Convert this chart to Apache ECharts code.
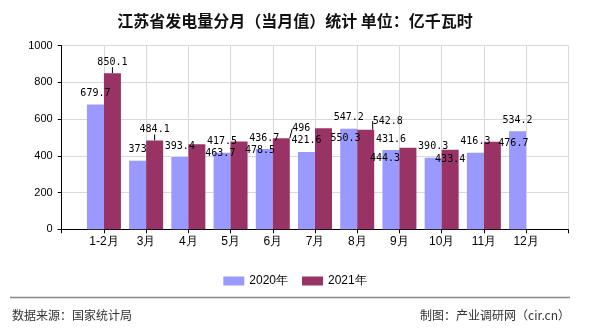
<!DOCTYPE html>
<html>
<head>
<meta charset="utf-8">
<script src="https://cdn.jsdelivr.net/npm/echarts@6/dist/echarts.min.js"></script>
<style>
html,body{margin:0;padding:0;background:#fff;}
#c{width:590px;height:330px;}
</style>
</head>
<body>
<div id="c"></div>
<script>
const categories = ['1-2月','3月','4月','5月','6月','7月','8月','9月','10月','11月','12月'];
const values2020 = [679.7, 373, 393.4, 417.5, 436.7, 421.6, 547.2, 431.6, 390.3, 416.3, 534.2];
const values2021 = [850.1, 484.1, 463.7, 478.5, 496, 550.3, 542.8, 444.3, 433.4, 476.7, null];
const seriesNames = ['2020年','2021年'];
const yTicks = {min: 0, max: 1000, interval: 200};

// label nudges (pixels) used by the original to avoid overlapping labels, 2021 series
const labelNudge2021 = {
  '4月': [23.5, 20.5], '5月': [21, 20], '6月': [20, 1.5], '7月': [22, 21.5],
  '8月': [22, 2.5], '9月': [-23, 21.5], '10月': [0, 20.5], '11月': [21, 12.5]
};

const chart = echarts.init(document.getElementById('c'), null, {renderer: 'canvas'});
const cats = [''].concat(categories, ['']);
const pad = arr => [null].concat(arr, [null]);
const labelFont = {show: true, position: 'top', distance: 6, fontFamily: 'DejaVu Sans Mono', fontSize: 10, color: '#000',
  formatter: p => (p.value == null ? '' : String(p.value))};

chart.setOption({
  animation: false,
  backgroundColor: '#fff',
  title: {
    text: '江苏省发电量分月（当月值）统计 单位：亿千瓦时',
    left: 'center', top: 8,
    textStyle: {fontFamily: 'Noto Sans CJK SC', fontSize: 16, fontWeight: 'bold', color: '#111'}
  },
  legend: {
    data: seriesNames,
    left: 'center', top: 270,
    itemWidth: 21, itemHeight: 9, itemGap: 14,
    icon: 'rect',
    textStyle: {fontFamily: 'Liberation Sans', fontSize: 12, color: '#000'}
  },
  grid: {left: 61.7, right: 21.7, top: 45.7, bottom: 100.7, containLabel: false},
  xAxis: {
    type: 'category', data: cats, boundaryGap: false,
    axisLine: {lineStyle: {color: '#000', width: 1}},
    axisTick: {show: true, length: 4, lineStyle: {color: '#000'}, interval: 0},
    axisLabel: {interval: 0, margin: 6, fontFamily: 'Liberation Sans', fontSize: 12, color: '#000'},
    splitLine: {show: true, interval: 0, lineStyle: {color: '#d9d9d9', width: 1}}
  },
  yAxis: {
    type: 'value', min: yTicks.min, max: yTicks.max, interval: yTicks.interval,
    axisLine: {show: true, lineStyle: {color: '#000', width: 1}},
    axisTick: {show: true, length: 4, lineStyle: {color: '#000'}},
    axisLabel: {margin: 9, fontFamily: 'Liberation Sans', fontSize: 11, color: '#000', formatter: v => String(v)},
    splitLine: {show: true, lineStyle: {color: '#d9d9d9', width: 1}}
  },
  series: [
    {name: seriesNames[0], type: 'bar', data: pad(values2020), barWidth: 17, barGap: '0%',
     itemStyle: {color: '#9999ff'}, label: labelFont},
    {name: seriesNames[1], type: 'bar', data: pad(values2021), barWidth: 17, barGap: '0%',
     itemStyle: {color: '#993366'}, label: labelFont,
     labelLine: {show: true, lineStyle: {color: '#000', width: 1}},
     labelLayout: function (p) {
       const n = labelNudge2021[cats[p.dataIndex]];
       return n ? {dx: n[0], dy: n[1]} : {};
     }}
  ],
  graphic: [
    {type: 'line', shape: {x1: 10, y1: 297.5, x2: 570, y2: 297.5}, style: {stroke: '#888', lineWidth: 1.5}},
    {type: 'text', left: 12, top: 309, style: {text: '数据来源：国家统计局', fontFamily: 'Noto Sans CJK SC', fontSize: 12, fill: '#333'}},
    {type: 'text', right: 20, top: 309, style: {text: '制图：产业调研网（cir.cn）', fontFamily: 'Noto Sans CJK SC', fontSize: 12, fill: '#333'}}
  ]
});
</script>
</body>
</html>
